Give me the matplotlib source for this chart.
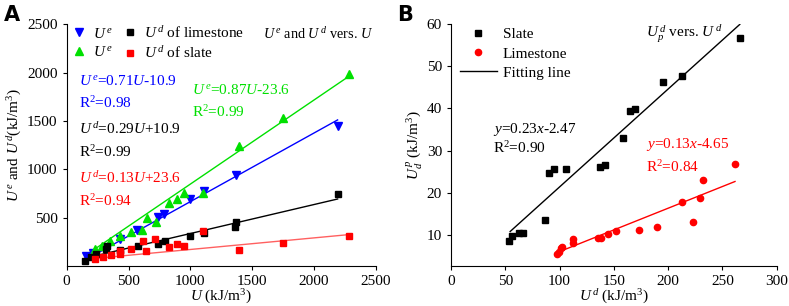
"""
Energy relations: Ue/Ud vs U (A) and Ud^p vs Ud (B).
"""

import numpy as np
import matplotlib
matplotlib.use('Agg')
import matplotlib.pyplot as plt

plt.rcParams['font.family'] = ['Liberation Serif', 'DejaVu Serif']
plt.rcParams['mathtext.fontset'] = 'custom'
plt.rcParams['mathtext.rm'] = 'Liberation Serif'
plt.rcParams['mathtext.it'] = 'Liberation Serif:italic'

# ---- Panel A data (kJ/m^3) ----
u_green = [229, 283, 350, 430, 520, 610, 650, 720, 825, 895, 950, 1100, 1390, 1750, 2280]
ue_green = [170, 205, 260, 310, 350, 370, 500, 455, 650, 690, 750, 750, 1240, 1530, 1980]

u_blue = [155, 210, 320, 430, 570, 740, 790, 1000, 1110, 1370, 2190]
ue_blue = [100, 130, 185, 275, 370, 510, 535, 690, 770, 940, 1450]

u_lime = [150, 200, 240, 320, 325, 430, 575, 735, 795, 1000, 1110, 1360, 1370, 2190]
ud_lime = [55, 95, 120, 170, 205, 165, 210, 225, 260, 305, 345, 405, 450, 740]

u_slate = [230, 290, 355, 430, 430, 520, 615, 645, 715, 825, 895, 945, 1100, 1390, 1750, 2280]
ud_slate = [75, 90, 110, 120, 155, 180, 260, 155, 275, 195, 225, 205, 365, 165, 235, 310]

# fitted lines as drawn: (slope, intercept, x start, x end)
fit_green = (0.87, -23.6, 150, 2280)
fit_blue = (0.71, -45.0, 150, 2190)
fit_lime = (0.30, 35.0, 150, 2190)
fit_slate = (0.12, 50.0, 230, 2280)

# ---- Panel B data ----
ud_s = [53.4, 56.5, 62.6, 66.0, 86.9, 90.3, 94.6, 106.2, 137.3, 141.9, 158.1, 165.2, 169.5, 195.3, 212.5, 266.2]
up_s = [8.6, 9.8, 10.4, 10.4, 13.6, 24.6, 25.6, 25.7, 26.2, 26.6, 32.9, 39.4, 39.9, 46.2, 47.6, 56.7]

ud_l = [97.3, 99.8, 101.3, 102.6, 112.1, 112.1, 135.1, 138.2, 144.3, 151.7, 173.5, 189.5, 212.5, 223.2, 229.4, 232.4, 261.6]
up_l = [5.5, 6.0, 6.8, 7.2, 9.0, 8.0, 9.2, 9.2, 10.1, 10.9, 11.2, 11.8, 17.8, 13.0, 18.8, 23.1, 26.8]

fit_s = (0.2325, -1.9, 54.5, 266)
fit_l = (0.103, -4.3, 99.8, 261.6)

GREEN = '#00e000'
BLUE = '#0000ff'
RED = '#ff0000'
FS = 11


def fit_line(ax, fit, color, lw=1.0):
    k, b, x0, x1 = fit
    xs = np.array([x0, x1])
    ax.plot(xs, k * xs + b, color=color, lw=lw, zorder=2)


def style_axes(ax):
    for side in ['top', 'right']:
        ax.spines[side].set_visible(False)
    ax.tick_params(direction='out', length=3, labelsize=FS)


fig = plt.figure(figsize=(7.89, 3.06), dpi=100)
axA = fig.add_axes([0.0845, 0.131, 0.392, 0.79])
axB = fig.add_axes([0.5716, 0.131, 0.4128, 0.79])

# ---- A ----
fit_line(axA, fit_green, GREEN)
fit_line(axA, fit_blue, BLUE)
fit_line(axA, fit_lime, 'black')
fit_line(axA, fit_slate, '#ff6060')
hb, = axA.plot(u_blue, ue_blue, 'v', color=BLUE, ms=5.5, ls='none', zorder=3)
hg, = axA.plot(u_green, ue_green, '^', color=GREEN, ms=5.5, ls='none', zorder=3)
hk, = axA.plot(u_lime, ud_lime, 's', color='black', ms=4.5, ls='none', zorder=3)
hr, = axA.plot(u_slate, ud_slate, 's', color=RED, ms=4.5, ls='none', zorder=3)

axA.set_xlim(0, 2500)
axA.set_ylim(0, 2500)
axA.set_xticks([0, 500, 1000, 1500, 2000, 2500])
axA.set_yticks([500, 1000, 1500, 2000, 2500])
style_axes(axA)
axA.set_xlabel('$U$ (kJ/m$^3$)', fontsize=FS, labelpad=0)
axA.set_ylabel('$U^{\\,e}$ and $U^{\\,d}$(kJ/m$^3$)', fontsize=FS, labelpad=2)

axA.legend([hb, hg, hk, hr],
           ['$U^{\\,e}$', '$U^{\\,e}$', '$U^{\\,d}$ of limestone', '$U^{\\,d}$ of slate'],
           ncol=2, loc='upper left', bbox_to_anchor=(-0.02, 1.035), frameon=False,
           fontsize=FS, handletextpad=0.3, columnspacing=0.55, labelspacing=0.3,
           borderaxespad=0.2, handlelength=1.2)
axA.text(0.99, 0.99, '$U^{\\,e}$ and $U^{\\,d}$ vers. $U$', transform=axA.transAxes,
         ha='right', va='top', fontsize=10.3)

dy = 0.033
axA.text(0.04, 0.78 - dy, '$U^{\\,e}$=0.71$U$-10.9', color=BLUE, transform=axA.transAxes, fontsize=FS)
axA.text(0.04, 0.685 - dy, 'R$^2$=0.98', color=BLUE, transform=axA.transAxes, fontsize=FS)
axA.text(0.04, 0.58 - dy, '$U^{\\,d}$=0.29$U$+10.9', color='black', transform=axA.transAxes, fontsize=FS)
axA.text(0.04, 0.485 - dy, 'R$^2$=0.99', color='black', transform=axA.transAxes, fontsize=FS)
axA.text(0.04, 0.375 - dy, '$U^{\\,d}$=0.13$U$+23.6', color=RED, transform=axA.transAxes, fontsize=FS)
axA.text(0.04, 0.28 - dy, 'R$^2$=0.94', color=RED, transform=axA.transAxes, fontsize=FS)
axA.text(0.405, 0.745 - dy, '$U^{\\,e}$=0.87$U$-23.6', color=GREEN, transform=axA.transAxes, fontsize=FS)
axA.text(0.405, 0.65 - dy, 'R$^2$=0.99', color=GREEN, transform=axA.transAxes, fontsize=FS)

# ---- B ----
fit_line(axB, fit_s, 'black')
fit_line(axB, fit_l, RED)
hs, = axB.plot(ud_s, up_s, 's', color='black', ms=4.5, ls='none', zorder=3)
hl, = axB.plot(ud_l, up_l, 'o', color=RED, ms=4.5, ls='none', zorder=3)
hf, = axB.plot([], [], color='black', lw=1.0)

axB.set_xlim(0, 300)
axB.set_ylim(2.6, 60)
axB.set_xticks([0, 50, 100, 150, 200, 250, 300])
axB.set_yticks([10, 20, 30, 40, 50, 60])
style_axes(axB)
axB.set_xlabel('$U^{\\,d}$ (kJ/m$^3$)', fontsize=FS, labelpad=0)
axB.set_ylabel('$U_d^{\\,p}$ (kJ/m$^3$)', fontsize=FS, labelpad=2)

axB.legend([hs, hl, hf], ['Slate', 'Limestone', 'Fitting line'],
           loc='upper left', bbox_to_anchor=(0.0, 1.023), frameon=False, fontsize=FS,
           handletextpad=0.4, labelspacing=0.35, handlelength=2.4, borderaxespad=0.2)
axB.text(0.6, 1.0, '$U_p^{\\,d}$ vers. $U^{\\,d}$', transform=axB.transAxes,
         ha='left', va='top', fontsize=FS)

axB.text(0.13, 0.551, '$y$=0.23$x$-2.47', color='black', transform=axB.transAxes, fontsize=FS)
axB.text(0.13, 0.468, 'R$^2$=0.90', color='black', transform=axB.transAxes, fontsize=FS)
axB.text(0.60, 0.486, '$y$=0.13$x$-4.65', color=RED, transform=axB.transAxes, fontsize=FS)
axB.text(0.60, 0.39, 'R$^2$=0.84', color=RED, transform=axB.transAxes, fontsize=FS)

fig.text(0.005, 0.985, 'A', fontsize=15, fontweight='bold', family='DejaVu Sans', va='top')
fig.text(0.503, 0.985, 'B', fontsize=15, fontweight='bold', family='DejaVu Sans', va='top')

fig.savefig('out.png', dpi=100)
